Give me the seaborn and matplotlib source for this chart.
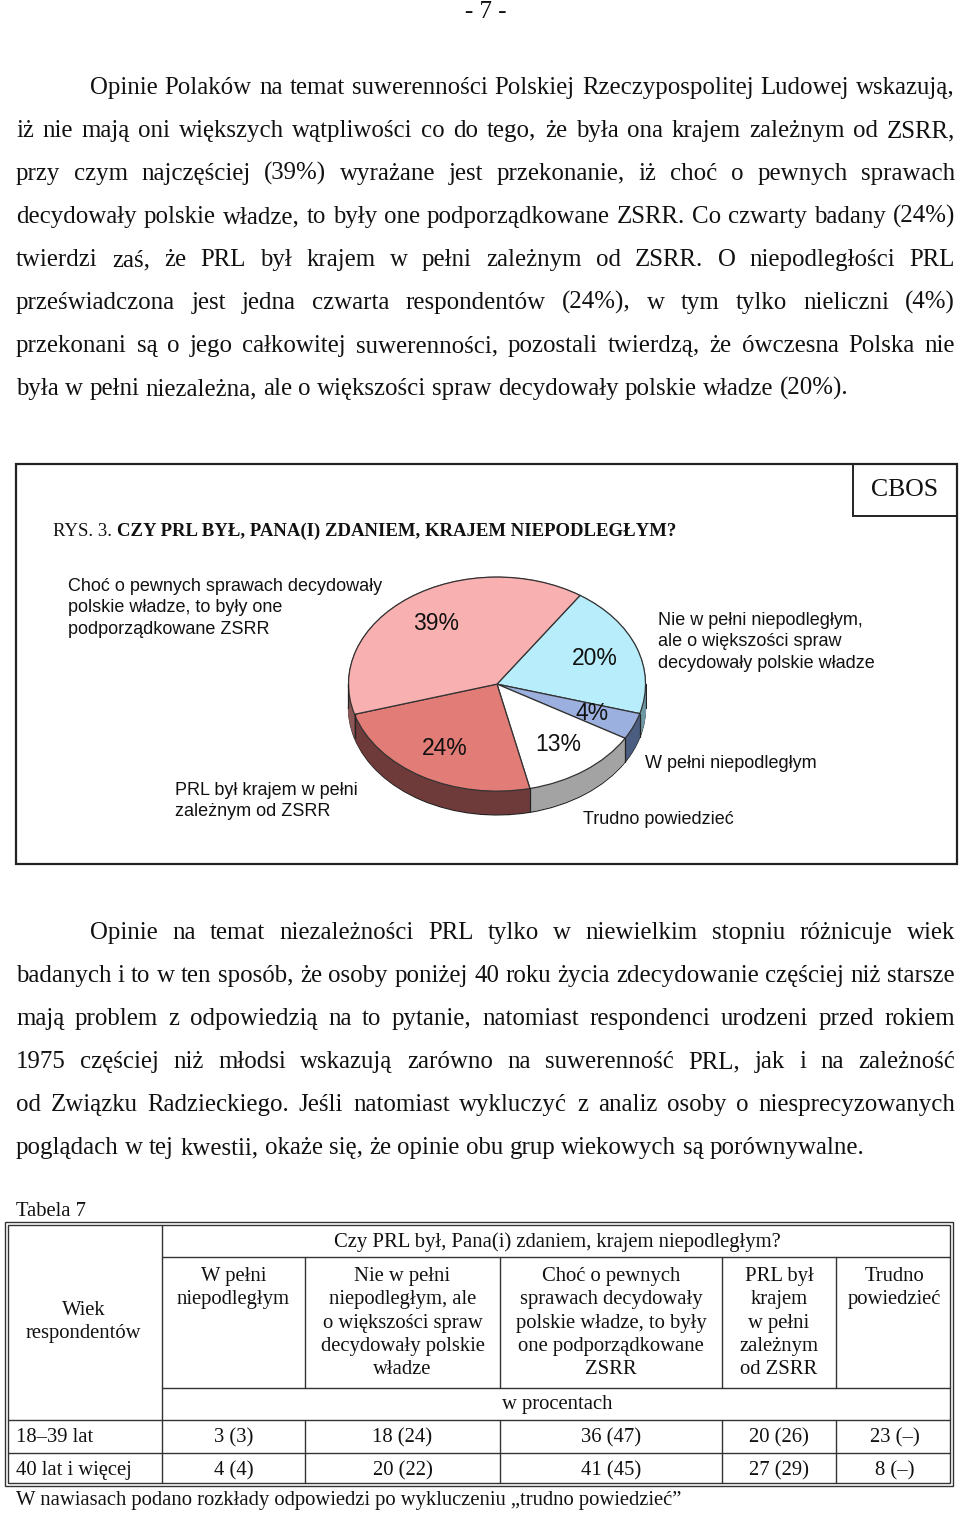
import numpy as np
import matplotlib
matplotlib.use("Agg")
import matplotlib.pyplot as plt
import seaborn as sns

sns.set_theme(style="white")
plt.rcParams['font.family'] = ['Liberation Serif', 'DejaVu Serif']

# ---------------- data ----------------
# pie (clockwise order as drawn)
pie_categories = ["Nie w pełni niepodległym,\nale o większości spraw\ndecydowały polskie władze",
                  "W pełni niepodległym",
                  "Trudno powiedzieć",
                  "PRL był krajem w pełni\nzależnym od ZSRR",
                  "Choć o pewnych sprawach decydowały\npolskie władze, to były one\npodporządkowane ZSRR"]
pie_values = [20, 4, 13, 24, 39]
pie_colors = ["#B8EEFC", "#9CB0E0", "#FFFFFF", "#E27C76", "#F9B0B0"]
pie_side_colors = ["#6E99A4", "#4B5D80", "#A3A3A3", "#6F3A3A", "#8A5656"]

# table
table_title = "Czy PRL był, Pana(i) zdaniem, krajem niepodległym?"
table_cols = ["W pełni\nniepodległym",
              "Nie w pełni\nniepodległym, ale\no większości spraw\ndecydowały polskie\nwładze",
              "Choć o pewnych\nsprawach decydowały\npolskie władze, to były\none podporządkowane\nZSRR",
              "PRL był\nkrajem\nw pełni\nzależnym\nod ZSRR",
              "Trudno\npowiedzieć"]
table_rows = ["18–39 lat", "40 lat i więcej"]
table_vals = [["3 (3)", "18 (24)", "36 (47)", "20 (26)", "23 (–)"],
              ["4 (4)", "20 (22)", "41 (45)", "27 (29)", "8 (–)"]]

para1 = ["Opinie Polaków na temat suwerenności Polskiej Rzeczypospolitej Ludowej wskazują,",
         "iż nie mają oni większych wątpliwości co do tego, że  była ona krajem zależnym od ZSRR,",
         "przy czym najczęściej (39%) wyrażane jest przekonanie, iż choć o pewnych sprawach",
         "decydowały polskie władze, to były one podporządkowane ZSRR. Co czwarty badany (24%)",
         "twierdzi zaś, że PRL był krajem w pełni zależnym od ZSRR. O niepodległości PRL",
         "przeświadczona jest jedna czwarta respondentów (24%), w tym tylko nieliczni (4%)",
         "przekonani są o jego całkowitej suwerenności, pozostali twierdzą, że ówczesna Polska nie",
         "była w pełni niezależna, ale o większości spraw decydowały polskie władze (20%)."]
para2 = ["Opinie na temat niezależności PRL tylko w niewielkim stopniu różnicuje wiek",
         "badanych i to w ten sposób, że osoby poniżej 40 roku życia zdecydowanie częściej niż starsze",
         "mają problem z odpowiedzią na to pytanie, natomiast respondenci urodzeni przed rokiem",
         "1975 częściej niż młodsi wskazują zarówno na suwerenność PRL, jak i na zależność",
         "od Związku Radzieckiego. Jeśli natomiast wykluczyć z analiz osoby o niesprecyzowanych",
         "poglądach w tej kwestii, okaże się, że opinie obu grup wiekowych są porównywalne."]

# ---------------- figure ----------------
W, H = 960, 1514
fig = plt.figure(figsize=(W / 100, H / 100), dpi=100)
page = fig.add_axes([0, 0, 1, 1])
page.set_xlim(0, W)
page.set_ylim(H, 0)
page.axis("off")
renderer = fig.canvas.get_renderer()

SERIF = ['Liberation Serif', 'DejaVu Serif']
SANS = ['Liberation Sans', 'DejaVu Sans']
BODY = 17.9
INK = "#111111"


def justify(lines, y0, step, size, x_left=16, x_right=955, indent=90):
    for i, line in enumerate(lines):
        y = y0 + i * step
        x0 = indent if i == 0 else x_left
        words = line.split()
        objs = [page.text(0, y, w, fontsize=size, family=SERIF, va="baseline", ha="left", color=INK)
                for w in words]
        widths = [o.get_window_extent(renderer).width for o in objs]
        last = (i == len(lines) - 1)
        if last or len(words) == 1:
            gap = 0.25 * size * 100 / 72
        else:
            gap = (x_right - x0 - sum(widths)) / (len(words) - 1)
        x = x0
        for o, wd in zip(objs, widths):
            o.set_x(x)
            x += wd + gap


page.text(486, 12, "- 7 -", fontsize=BODY, family=SERIF, ha="center", va="center", color=INK)
justify(para1, 94, 43, BODY)
justify(para2, 939, 43, BODY)

# ---------------- chart frame ----------------
page.add_patch(plt.Rectangle((16, 464), 941, 400, fill=False, lw=1.6, ec="#222222"))
page.add_patch(plt.Rectangle((853, 464), 104, 52, fill=False, lw=1.4, ec="#222222"))
page.text(905, 490, "CBOS", fontsize=18.5, family=SERIF, ha="center", va="center", color=INK)
t1 = page.text(53, 531, "RYS. 3. ", fontsize=13.5, family=SERIF, ha="left", va="center", color=INK)
w1 = t1.get_window_extent(renderer).width
page.text(53 + w1, 531, "CZY PRL BYŁ, PANA(I) ZDANIEM, KRAJEM NIEPODLEGŁYM?", fontsize=13.5,
          family=SERIF, weight="bold", ha="left", va="center", color=INK)

# ---------------- 3D-like pie ----------------
cx, cy, rx, ry, depth = 497, 684, 150, 108, 24
d = depth / ry
pax = fig.add_axes([(cx - rx) / W, 1 - (cy + ry + depth) / H, 2 * rx / W, (2 * ry + depth) / H])
pax.set_zorder(3)
start = 56
n_layers = 26
for k, off in enumerate(np.linspace(d, 0, n_layers)):
    last_side = (k == 0)
    pax.pie(pie_values, colors=pie_side_colors, startangle=start, counterclock=False,
            center=(0, -off), radius=1,
            wedgeprops=dict(linewidth=0.9 if last_side else 0.6,
                            edgecolor="#222222" if last_side else None))
    if not last_side:
        for wdg, c in zip(pax.patches[-len(pie_values):], pie_side_colors):
            wdg.set_edgecolor(c)
wedges, texts, autotexts = pax.pie(pie_values, colors=pie_colors, startangle=start, counterclock=False,
                                   center=(0, 0), radius=1, autopct=lambda p: f"{p:.0f}%",
                                   pctdistance=0.7,
                                   wedgeprops=dict(linewidth=0.9, edgecolor="#333333"),
                                   textprops=dict(fontsize=16.5, family=SANS, color=INK))
# vertical edges on the front side
angles = []
for wdg in wedges:
    angles += [wdg.theta1, wdg.theta2]
angles += [180, 360]
for a in set(np.round(angles, 4)):
    r = np.deg2rad(a)
    if np.sin(r) <= 1e-9:
        pax.plot([np.cos(r), np.cos(r)], [np.sin(r), np.sin(r) - d], color="#222222", lw=0.9)
pax.set_aspect("auto")
pax.set_xlim(-1.01, 1.01)
pax.set_ylim(-1 - d - 0.01, 1.01)
pax.axis("off")

# outside labels
label_pos = [(658, 642, "left"), (645, 763, "left"), (583, 820, "left"),
             (175, 801, "left"), (68, 608, "left")]
for lab, (lx, ly, ha) in zip(pie_categories, label_pos):
    page.text(lx, ly, lab, fontsize=13, family=SANS, ha=ha, va="center", color=INK,
              linespacing=1.38, zorder=5)

# ---------------- table ----------------
TS = 14.9
TLS = 1.31
page.text(16, 1212, "Tabela 7", fontsize=TS, family=SERIF, ha="left", va="center", color=INK)
col_x = [5, 162, 305, 500, 722, 836, 953]
y_top, y_title, y_head, y_pct, y_r1, y_bot = 1222, 1257, 1388, 1420, 1453, 1486
lc = "#333333"
# outer double border
for off in (0, 3):
    page.add_patch(plt.Rectangle((col_x[0] + off, y_top + off), col_x[-1] - col_x[0] - 2 * off,
                                 y_bot - y_top - 2 * off, fill=False, lw=1.0, ec=lc))
page.plot([col_x[1], col_x[1]], [y_top + 3, y_bot - 3], color=lc, lw=1.0)
page.plot([col_x[1], col_x[-1] - 3], [y_title, y_title], color=lc, lw=1.0)
page.plot([col_x[1], col_x[-1] - 3], [y_head, y_head], color=lc, lw=1.0)
page.plot([col_x[0] + 3, col_x[-1] - 3], [y_pct, y_pct], color=lc, lw=1.0)
page.plot([col_x[0] + 3, col_x[-1] - 3], [y_r1, y_r1], color=lc, lw=1.0)
for x in col_x[2:-1]:
    page.plot([x, x], [y_title, y_head], color=lc, lw=1.0)
    page.plot([x, x], [y_pct, y_bot - 3], color=lc, lw=1.0)

page.text((col_x[1] + col_x[-1]) / 2, 1242, table_title, fontsize=TS, family=SERIF,
          ha="center", va="center", color=INK)
page.text((col_x[0] + col_x[1]) / 2, 1322, "Wiek\nrespondentów", fontsize=TS, family=SERIF,
          ha="center", va="center", color=INK, linespacing=TLS)
for i, lab in enumerate(table_cols):
    page.text((col_x[i + 1] + col_x[i + 2]) / 2, 1267, lab, fontsize=TS, family=SERIF,
              ha="center", va="top", color=INK, linespacing=TLS)
page.text((col_x[1] + col_x[-1]) / 2, 1404, "w procentach", fontsize=TS, family=SERIF,
          ha="center", va="center", color=INK)
row_y = [1438, 1471]
for r, (rl, vals) in enumerate(zip(table_rows, table_vals)):
    page.text(16, row_y[r], rl, fontsize=TS, family=SERIF, ha="left", va="center", color=INK)
    for i, v in enumerate(vals):
        page.text((col_x[i + 1] + col_x[i + 2]) / 2, row_y[r], v, fontsize=TS, family=SERIF,
                  ha="center", va="center", color=INK)
page.text(16, 1501, "W nawiasach podano rozkłady odpowiedzi po wykluczeniu „trudno powiedzieć”",
          fontsize=TS, family=SERIF, ha="left", va="center", color=INK)

fig.savefig("out.png", dpi=100)
